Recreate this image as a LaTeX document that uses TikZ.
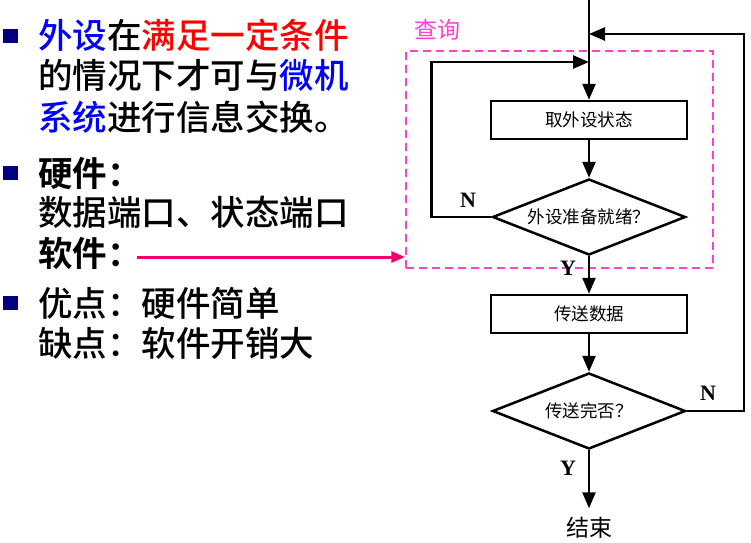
\documentclass[tikz,border=0pt]{standalone}
\usepackage{fontspec}
\setmainfont{Liberation Serif}
\newfontfamily\cjk{Noto Sans CJK SC}[UprightFont={* Medium}, BoldFont={* Bold}]
\newfontfamily\cjkl{Noto Sans CJK SC}
\usetikzlibrary{positioning,arrows.meta,shapes.geometric}
\usepackage{xcolor}
\definecolor{navyb}{RGB}{0,0,128}
\definecolor{qpink}{RGB}{255,64,210}
\definecolor{apink}{RGB}{238,0,110}

\begin{document}
\begin{tikzpicture}[
  x=1pt, y=-1pt,
  node distance=37.5pt,
  txt/.style={font=\cjk\fontsize{34.5}{40}\selectfont, inner sep=0, anchor=west},
  bul/.style={fill=navyb, minimum width=15pt, minimum height=14pt, inner sep=0},
  proc/.style={draw, line width=2.5pt, minimum width=196pt, minimum height=38pt, inner sep=0, font=\cjkl\fontsize{17.5}{20}\selectfont},
  dec/.style={draw, diamond, aspect=2.54, line width=2.5pt, minimum width=193pt, minimum height=76pt, inner sep=0, font=\cjkl\fontsize{17.5}{20}\selectfont},
  yn/.style={font=\bfseries\fontsize{22}{24}\selectfont, inner sep=0},
  arr/.style={-{Triangle[length=16pt,width=13pt]}, line width=2.5pt}
]
\useasboundingbox (0,0) rectangle (751,542);

% left column
\node[bul] (b1) at (10.5,36) {};
\node[txt] (l1) at (38,35) {\textcolor{blue}{外设}在\textcolor{red}{满足一定条件}};
\node[txt] (l2) at (38,75) {的情况下才可与\textcolor{blue}{微机}};
\node[txt] (l3) at (38,117) {\textcolor{blue}{系统}进行信息交换。};

\node[bul] (b2) at (10.5,173) {};
\node[txt] (l4) at (38,173) {\bfseries 硬件：};
\node[txt] (l5) at (38,212) {数据端口、状态端口};
\node[txt] (l6) at (38,253) {\bfseries 软件：};

\node[bul] (b3) at (10.5,303) {};
\node[txt] (l7) at (38,303) {优点：硬件简单};
\node[txt] (l8) at (38,343) {缺点：软件开销大};

% query region
\node[draw=qpink, dash pattern=on 8pt off 5pt, line width=1.5pt, minimum width=307pt, minimum height=217pt, inner sep=0] (qry) at (559.5,159.5) {};
\node[font=\cjkl\fontsize{23}{26}\selectfont, text=qpink, inner sep=0] (qlbl) at (437,30) {查询};

% flow chart
\coordinate (top) at (589,0);
\coordinate (backin) at (589,34);
\coordinate (loopin) at (589,62);
\node[proc] (getst) at (589,120) {取外设状态};
\node[dec, below=of getst] (ready) {外设准备就绪？};
\node[proc, below=of ready] (send) {传送数据};
\node[dec, below=of send] (done) {传送完否？};
\node[below=58pt of done, inner xsep=1pt, inner ysep=9pt, font=\cjkl\fontsize{23}{26}\selectfont] (fin) {结束};

\draw[arr] (top) -- (getst);
\draw[arr] (getst) -- (ready);
\draw[arr] (ready) -- (send);
\draw[arr] (send) -- (done);
\draw[arr] (done) -- (fin);
\draw[arr] (ready.west) -- ++(-60,0) |- (loopin);
\draw[arr] (done.east) -- ++(57,0) |- (backin);

\node[yn] (n1) at (468,200) {N};
\node[yn] (y1) at (568,268) {Y};
\node[yn] (n2) at (708,393) {N};
\node[yn] (y2) at (568,468) {Y};

\draw[-{Triangle[length=14pt,width=11pt]}, apink, line width=3pt] ([xshift=-5pt,yshift=-4pt]l6.east) -- ([yshift=-4pt]qry.west |- l6.east);
\end{tikzpicture}
\end{document}
